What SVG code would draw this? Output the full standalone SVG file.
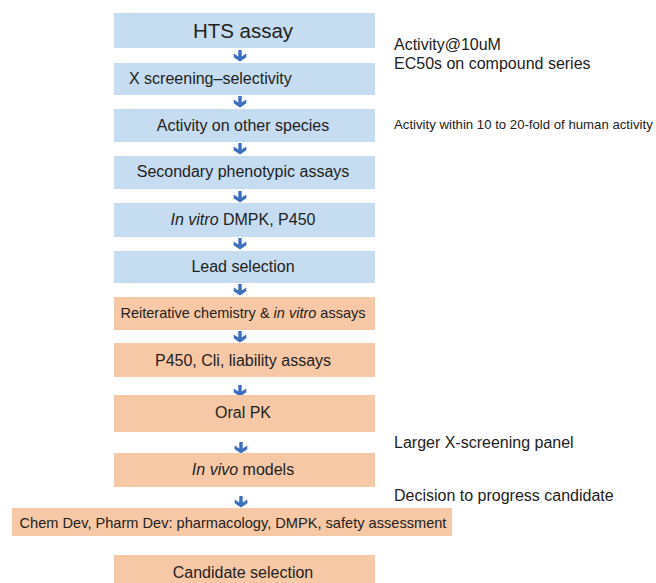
<svg xmlns="http://www.w3.org/2000/svg" width="656" height="583" viewBox="0 0 656 583">
<style>
text{font-family:"Liberation Sans",Arial,sans-serif;fill:#222;}
.b{fill:#c6dcf1;}
.o{fill:#f7c8a5;}
.c{text-anchor:middle;font-size:16px;}
.n{font-size:16px;}
.a{fill:#3c6fbf;}
</style>
<defs>
<symbol id="arr" overflow="visible">
<path class="a" d="M-1.7,-5 H1.7 V1.5 L6.3,-1.5 V2.2 L0,6.5 L-6.3,2.2 V-1.5 L-1.7,1.5 Z"/>
</symbol>
</defs>
<rect width="656" height="583" fill="#fff"/>
<g id="connectors">
<use href="#arr" x="240" y="55"/>
<use href="#arr" x="240" y="101"/>
<use href="#arr" x="240" y="148"/>
<use href="#arr" x="240" y="196"/>
<use href="#arr" x="240" y="243"/>
<use href="#arr" x="240" y="289"/>
<use href="#arr" x="240" y="336"/>
<use href="#arr" x="240" y="390"/>
<use href="#arr" x="241" y="447"/>
<use href="#arr" x="241" y="501"/>
</g>
<g id="n1"><rect class="b" x="114" y="13" width="261" height="35"/><text x="243" y="38" text-anchor="middle" font-size="20.5">HTS assay</text></g>
<g id="n2"><rect class="b" x="114" y="63" width="261" height="32"/><text class="n" x="129" y="84">X screening–selectivity</text></g>
<g id="n3"><rect class="b" x="114" y="109" width="261" height="33"/><text class="c" x="243" y="131">Activity on other species</text></g>
<g id="n4"><rect class="b" x="114" y="156" width="261" height="33"/><text class="c" x="243" y="177">Secondary phenotypic assays</text></g>
<g id="n5"><rect class="b" x="114" y="203" width="261" height="34"/><text class="c" x="243" y="225"><tspan font-style="italic">In vitro</tspan> DMPK, P450</text></g>
<g id="n6"><rect class="b" x="114" y="251" width="261" height="32"/><text class="c" x="243" y="272">Lead selection</text></g>
<g id="n7"><rect class="o" x="114" y="297" width="261" height="33"/><text x="243" y="318" text-anchor="middle" font-size="14.5">Reiterative chemistry &amp; <tspan font-style="italic">in vitro</tspan> assays</text></g>
<g id="n8"><rect class="o" x="114" y="343" width="261" height="34"/><text class="c" x="243" y="366">P450, Cli, liability assays</text></g>
<g id="n9"><rect class="o" x="114" y="395" width="261" height="37"/><text class="c" x="243" y="418">Oral PK</text></g>
<g id="n10"><rect class="o" x="114" y="453" width="261" height="34"/><text class="c" x="243" y="475"><tspan font-style="italic">In vivo</tspan> models</text></g>
<g id="n11"><rect class="o" x="12" y="508" width="440" height="28"/><text x="233" y="528" text-anchor="middle" font-size="14.6">Chem Dev, Pharm Dev: pharmacology, DMPK, safety assessment</text></g>
<g id="n12"><rect class="o" x="114" y="555" width="261" height="28"/><text class="c" x="243" y="578">Candidate selection</text></g>
<g id="notes">
<text class="n" x="394" y="50">Activity@10uM</text>
<text class="n" x="394" y="69">EC50s on compound series</text>
<text x="394" y="129" font-size="13.2">Activity within 10 to 20-fold of human activity</text>
<text class="n" x="394" y="448">Larger X-screening panel</text>
<text class="n" x="394" y="501">Decision to progress candidate</text>
</g>
</svg>
